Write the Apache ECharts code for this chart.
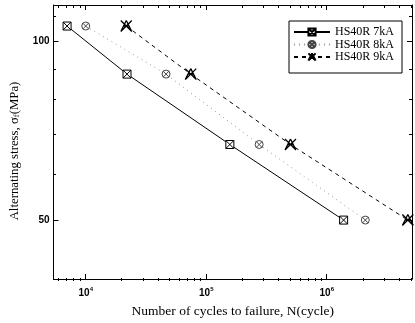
<!DOCTYPE html>
<html lang="en">
<head>
<meta charset="UTF-8" />
<title>S-N curves</title>
<script src="https://cdn.jsdelivr.net/npm/echarts@6/dist/echarts.min.js"></script>
<style>
  html, body { margin: 0; padding: 0; background: #fff; }
  #main { width: 415px; height: 323px; }
</style>
</head>
<body>
<div id="main"></div>
<script type="text/javascript">
// values
var seriesNames = ["HS40R 7kA", "HS40R 8kA", "HS40R 9kA"];
var stress = [106, 88, 67, 50]; // MPa, same levels for all currents
var cycles7kA = [7000, 22000, 157000, 1380000];
var cycles8kA = [10000, 46400, 275000, 2090000];
var cycles9kA = [21700, 74400, 500000, 4710000];
var xMajor = [1e4, 1e5, 1e6];
var xMinor = [6e3, 7e3, 8e3, 9e3, 2e4, 3e4, 4e4, 5e4, 6e4, 7e4, 8e4, 9e4,
  2e5, 3e5, 4e5, 5e5, 6e5, 7e5, 8e5, 9e5, 2e6, 3e6, 4e6, 5e6];
var yMajor = [50, 100];
var yMinor = [40, 60, 70, 80, 90, 110];
var xRange = [5400, 5.1e6];
var yRange = [39.8, 115];

var lg = Math.log10;
var font = "Liberation Serif";

// both axes are log10 scaled, so points and ticks go in as log values
function pts(cycles) {
  return cycles.map(function (n, i) { return [lg(n), lg(stress[i])]; });
}

function xAx(gi, pos, ticks, len, show) {
  return {
    type: "value", gridIndex: gi, position: pos,
    min: lg(xRange[0]), max: lg(xRange[1]),
    axisLine: { show: show, lineStyle: { color: "#000", width: 1 } },
    axisTick: { inside: true, length: len, customValues: ticks.map(lg), lineStyle: { color: "#000" } },
    axisLabel: { show: false },
    splitLine: { show: false }
  };
}
function yAx(gi, pos, ticks, len, show) {
  return {
    type: "value", gridIndex: gi, position: pos,
    min: lg(yRange[0]), max: lg(yRange[1]),
    axisLine: { show: show, lineStyle: { color: "#000", width: 1 } },
    axisTick: { inside: true, length: len, customValues: ticks.map(lg), lineStyle: { color: "#000" } },
    axisLabel: { show: false },
    splitLine: { show: false }
  };
}

var xAxes = [
  xAx(0, "bottom", xMajor, 5, true),
  xAx(0, "top", xMajor, 5, true),
  xAx(1, "bottom", xMinor, 3, false),
  xAx(1, "top", xMinor, 3, false)
];
var yAxes = [
  yAx(0, "left", yMajor, 5, true),
  yAx(0, "right", yMajor, 5, true),
  yAx(1, "left", yMinor, 3, false),
  yAx(1, "right", yMinor, 3, false)
];

xAxes[0].axisLabel = {
  show: true, customValues: xMajor.map(lg), margin: 7,
  formatter: function (v) { return "{b|10}{e|" + Math.round(v) + "}"; },
  rich: {
    b: { fontFamily: "Liberation Sans", fontWeight: "bold", fontSize: 10, color: "#000", lineHeight: 12, verticalAlign: "bottom" },
    e: { fontFamily: "Liberation Sans", fontWeight: "bold", fontSize: 6, color: "#000", lineHeight: 12, verticalAlign: "top" }
  }
};
xAxes[0].name = "Number of cycles to failure, N(cycle)";
xAxes[0].nameLocation = "middle";
xAxes[0].nameGap = 25;
xAxes[0].nameTextStyle = { fontFamily: font, fontSize: 13.5, color: "#000" };

yAxes[0].axisLabel = {
  show: true, customValues: yMajor.map(lg), margin: 4,
  fontFamily: "Liberation Sans", fontWeight: "bold", fontSize: 10, color: "#000",
  formatter: function (v) { return Math.round(Math.pow(10, v)); }
};
yAxes[0].name = "Alternating stress, σ{s|f}(MPa)";
yAxes[0].nameLocation = "middle";
yAxes[0].nameGap = 32;
yAxes[0].nameRotate = 90;
yAxes[0].nameTextStyle = {
  fontFamily: font, fontSize: 12.8, color: "#000", padding: [0, 18, 0, 0],
  rich: { s: { fontFamily: font, fontSize: 8.5, color: "#000", verticalAlign: "bottom", lineHeight: 14 } }
};

var sqX = "path://M0,0H10V10H0Z M0,0L10,10 M10,0L0,10";
var ciX = "path://M10,5A5,5 0 1,1 0,5A5,5 0 1,1 10,5Z M1.5,1.5L8.5,8.5 M8.5,1.5L1.5,8.5";
var triX = "path://M0,0L10,10 M10,0L0,10 M5,0L0,10 M5,0L10,10 M2.5,5H7.5";

var gridBox = { left: 53, right: 3, top: 5, bottom: 42 };

var myChart = echarts.init(document.getElementById("main"));
var option = {
  animation: false,
  backgroundColor: "#fff",
  grid: [Object.assign({}, gridBox), Object.assign({}, gridBox)],
  xAxis: xAxes,
  yAxis: yAxes,
  legend: {
    orient: "vertical", left: 289, top: 21,
    data: seriesNames,
    itemWidth: 36, itemHeight: 9, itemGap: 0.5,
    padding: [5, 8, 10, 4],
    borderColor: "#000", borderWidth: 1, borderRadius: 0,
    backgroundColor: "#fff",
    textStyle: { fontFamily: font, fontSize: 12, color: "#000" }
  },
  series: [
    {
      name: seriesNames[0], type: "line", data: pts(cycles7kA),
      symbol: sqX, symbolSize: 8,
      itemStyle: { color: "#fff", borderColor: "#000", borderWidth: 1 },
      lineStyle: { color: "#000", width: 1, type: "solid" }
    },
    {
      name: seriesNames[1], type: "line", data: pts(cycles8kA),
      symbol: ciX, symbolSize: 8,
      itemStyle: { color: "#fff", borderColor: "#444", borderWidth: 1 },
      lineStyle: { color: "#999", width: 1, type: [1, 4] }
    },
    {
      name: seriesNames[2], type: "line", data: pts(cycles9kA),
      symbol: triX, symbolSize: 11,
      itemStyle: { color: "#fff", borderColor: "#000", borderWidth: 1.3 },
      lineStyle: { color: "#000", width: 1, type: [4, 4] }
    }
  ]
};
myChart.setOption(option);
</script>
</body>
</html>
